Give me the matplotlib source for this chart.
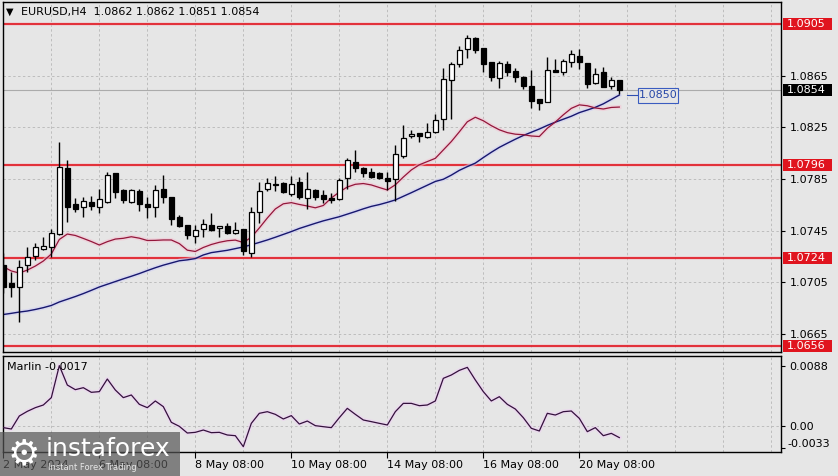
import numpy as np
import matplotlib.pyplot as plt
from matplotlib.patches import Rectangle

# EURUSD H4 candles, 2 May 2024 08:00 ... 21 May 2024 04:00
opens = [1.07184, 1.07047, 1.07012, 1.07184, 1.07254, 1.07306, 1.07321, 1.07424, 1.07933, 1.07656,
         1.07631, 1.07674, 1.07631, 1.07674, 1.07894, 1.07765, 1.07674, 1.07757, 1.07656, 1.07631,
         1.07770, 1.07708, 1.07558, 1.07492, 1.07409, 1.07461, 1.07492, 1.07468, 1.07488, 1.07430,
         1.07461, 1.07279, 1.07597, 1.07770, 1.07811, 1.07817, 1.07734, 1.07827, 1.07701, 1.07765,
         1.07726, 1.07705, 1.07693, 1.07855, 1.07979, 1.07933, 1.07907, 1.07899, 1.07860, 1.07850,
         1.08030, 1.08181, 1.08204, 1.08175, 1.08212, 1.08312, 1.08616, 1.08738, 1.08856, 1.08944,
         1.08862, 1.08753, 1.08634, 1.08738, 1.08686, 1.08642, 1.08570, 1.08469, 1.08444, 1.08694,
         1.08681, 1.08753, 1.08805, 1.08746, 1.08591, 1.08676, 1.08572, 1.0862]
highs = [1.07275, 1.07132, 1.07223, 1.07321, 1.07352, 1.07403, 1.07461, 1.08139, 1.07997, 1.07701,
         1.07713, 1.07721, 1.07770, 1.07907, 1.07899, 1.07773, 1.07770, 1.07770, 1.07713, 1.07804,
         1.07881, 1.07708, 1.07571, 1.07494, 1.07494, 1.07538, 1.07584, 1.07484, 1.07512, 1.07519,
         1.07463, 1.07636, 1.07829, 1.07855, 1.07873, 1.07829, 1.07873, 1.07868, 1.07907, 1.07770,
         1.07765, 1.07739, 1.07855, 1.08010, 1.08075, 1.07945, 1.07937, 1.07907, 1.07907, 1.08113,
         1.08268, 1.08229, 1.08204, 1.08281, 1.08351, 1.08707, 1.08758, 1.08882, 1.08965, 1.08952,
         1.08862, 1.08758, 1.08764, 1.08764, 1.08712, 1.08650, 1.08694, 1.08469, 1.08797, 1.08779,
         1.08779, 1.08849, 1.08856, 1.08746, 1.08712, 1.08719, 1.08642, 1.0862]
lows = [1.06965, 1.06939, 1.06745, 1.07132, 1.07223, 1.07300, 1.07248, 1.07416, 1.07519, 1.07597,
        1.07558, 1.07610, 1.07584, 1.07662, 1.07701, 1.07666, 1.07662, 1.07605, 1.07546, 1.07558,
        1.07662, 1.07494, 1.07481, 1.07383, 1.07352, 1.07403, 1.07450, 1.07403, 1.07424, 1.07424,
        1.07262, 1.07248, 1.07507, 1.07759, 1.07759, 1.07739, 1.07718, 1.07693, 1.07615, 1.07687,
        1.07662, 1.07662, 1.07687, 1.07773, 1.07902, 1.07868, 1.07860, 1.07850, 1.07765, 1.07682,
        1.08010, 1.08165, 1.08134, 1.08170, 1.08204, 1.08229, 1.08315, 1.08719, 1.08789, 1.08823,
        1.08676, 1.08609, 1.08552, 1.08650, 1.08603, 1.08547, 1.08400, 1.08381, 1.08444, 1.08681,
        1.08655, 1.08719, 1.08702, 1.08552, 1.08583, 1.08565, 1.08547, 1.0851]
closes = [1.07016, 1.07016, 1.07171, 1.07248, 1.07321, 1.07331, 1.07430, 1.07941, 1.07636, 1.07620,
          1.07682, 1.07641, 1.07693, 1.07881, 1.07752, 1.07687, 1.07765, 1.07656, 1.07636, 1.07765,
          1.07708, 1.07538, 1.07486, 1.07416, 1.07455, 1.07499, 1.07455, 1.07484, 1.07434, 1.07455,
          1.07293, 1.07597, 1.07759, 1.07821, 1.07801, 1.07747, 1.07811, 1.07708, 1.07770, 1.07708,
          1.07695, 1.07690, 1.07842, 1.07997, 1.07937, 1.07894, 1.07868, 1.07860, 1.07835, 1.08041,
          1.08170, 1.08196, 1.08181, 1.08216, 1.08304, 1.08622, 1.08738, 1.08849, 1.08944, 1.08849,
          1.08738, 1.08642, 1.08746, 1.08676, 1.08642, 1.08572, 1.08454, 1.08436, 1.08694, 1.08681,
          1.08764, 1.08815, 1.08753, 1.08583, 1.08661, 1.08565, 1.08616, 1.0854]

# moving averages
ma_fast = [1.07171, 1.07138, 1.07122, 1.07145, 1.07176, 1.07215, 1.07269, 1.07382, 1.07424, 1.07413,
           1.07390, 1.07366, 1.07339, 1.07365, 1.07385, 1.07391, 1.07403, 1.07392, 1.07374, 1.07375,
           1.07378, 1.07378, 1.07350, 1.07299, 1.07289, 1.07320, 1.07343, 1.07360, 1.07372, 1.07377,
           1.07358, 1.07399, 1.07471, 1.07548, 1.07618, 1.07658, 1.07667, 1.07653, 1.07641, 1.07627,
           1.07645, 1.07703, 1.07749, 1.07788, 1.07809, 1.07815, 1.07804, 1.07784, 1.07765, 1.07805,
           1.07865, 1.07920, 1.07960, 1.07985, 1.08010, 1.08075, 1.08140, 1.08215, 1.08293, 1.08328,
           1.08301, 1.08263, 1.08231, 1.08209, 1.08197, 1.08193, 1.08183, 1.08179, 1.08243, 1.08291,
           1.08347, 1.08397, 1.08424, 1.08417, 1.08400, 1.08392, 1.08404, 1.08407]
ma_slow = [1.06801, 1.06810, 1.06820, 1.06828, 1.06840, 1.06854, 1.06871, 1.06898, 1.06919, 1.06940,
           1.06963, 1.06988, 1.07014, 1.07035, 1.07056, 1.07077, 1.07097, 1.07118, 1.07141, 1.07163,
           1.07183, 1.07200, 1.07217, 1.07224, 1.07234, 1.07262, 1.07280, 1.07289, 1.07298, 1.07311,
           1.07324, 1.07341, 1.07359, 1.07378, 1.07399, 1.07421, 1.07443, 1.07467, 1.07487, 1.07507,
           1.07526, 1.07542, 1.07558, 1.07578, 1.07598, 1.07619, 1.07638, 1.07652, 1.07669, 1.07688,
           1.07716, 1.07744, 1.07773, 1.07802, 1.07831, 1.07848, 1.07880, 1.07917, 1.07946, 1.07973,
           1.08016, 1.08057, 1.08095, 1.08127, 1.08158, 1.08187, 1.08212, 1.08237, 1.08265, 1.08290,
           1.08313, 1.08336, 1.08364, 1.08384, 1.08405, 1.08432, 1.08466, 1.08500]

marlin = [-0.00024, -0.00044, 0.00147, 0.00215, 0.00269, 0.00308, 0.00416, 0.00885, 0.00601, 0.00533,
          0.00562, 0.00494, 0.00504, 0.00689, 0.00528, 0.00416, 0.00455, 0.00318, 0.00269, 0.00367,
          0.00284, 0.00054, -0.00005, -0.00103, -0.00093, -0.00059, -0.00098, -0.00093, -0.00132, -0.00142,
          -0.00303, 0.00039, 0.00186, 0.00210, 0.00171, 0.00103, 0.00152, 0.00029, 0.00073, 0.00005,
          -0.00010, -0.00024, 0.00122, 0.00259, 0.00171, 0.00088, 0.00064, 0.00039, 0.00015, 0.00210,
          0.00332, 0.00332, 0.00298, 0.00308, 0.00367, 0.00699, 0.00748, 0.00816, 0.00860, 0.00675,
          0.00504, 0.00367, 0.00430, 0.00318, 0.00249, 0.00122, -0.00034, -0.00073, 0.00186, 0.00161,
          0.00210, 0.00220, 0.00112, -0.00083, -0.00024, -0.00142, -0.00108, -0.0017]

levels = [1.0905, 1.0796, 1.0724, 1.0656]
price_ticks = [1.0865, 1.0825, 1.0785, 1.0745, 1.0705, 1.0665]
marlin_ticks = [0.0088, 0.0, -0.0033]
time_pos = [0, 12, 24, 36, 48, 60, 72]
time_labels = ['2 May 2024', '6 May 08:00', '8 May 08:00', '10 May 08:00',
               '14 May 08:00', '16 May 08:00', '20 May 08:00']
ma_label = 1.0850

bg = '#e6e6e6'
red = '#e0141e'
grid_c = '#bdbdbd'
W, H = 838, 476

plt.rcParams['font.family'] = 'DejaVu Sans'
plt.rcParams['font.size'] = 8

fig = plt.figure(figsize=(W / 100, H / 100), dpi=100, facecolor=bg)


def box(x0, y0, x1, y1):
    return [x0 / W, 1 - y1 / H, (x1 - x0) / W, (y1 - y0) / H]


ax = fig.add_axes(box(3, 2, 781, 352), facecolor=bg)
ax2 = fig.add_axes(box(3, 356, 781, 452), facecolor=bg)

n = len(closes)
x = np.arange(n)
o = np.array(opens); c = np.array(closes)
hi = np.array(highs); lo = np.array(lows)

xlim = (-0.04, 97.21)
ylo = 1.0905 - 328 / 12917
yhi = 1.0905 + 22 / 12917
for a in (ax, ax2):
    a.set_xlim(*xlim)
    for s in a.spines.values():
        s.set_color('black'); s.set_linewidth(1)
    for gx in range(6, 97, 6):
        a.axvline(gx, color=grid_c, lw=0.7, ls=(0, (2.5, 2.5)), zorder=0)

ax.set_ylim(ylo, yhi)
for p in price_ticks:
    ax.axhline(p, color=grid_c, lw=0.7, ls=(0, (2.5, 2.5)), zorder=0)

# bid line
ax.axhline(c[-1], color='#ababab', lw=0.8, zorder=0.5)

# horizontal levels
for lv in levels:
    ax.axhline(lv, color='#f2b4be', lw=2.6, alpha=0.5, zorder=1)
    ax.axhline(lv, color=red, lw=1.2, zorder=1)

# moving averages
ax.plot(x, ma_slow, color='#cfcff4', lw=3, alpha=0.6, zorder=2)
ax.plot(x, ma_slow, color='#17176e', lw=1.0, zorder=2.1)
ax.plot(x, ma_fast, color='#f3c6d4', lw=3, alpha=0.6, zorder=2)
ax.plot(x, ma_fast, color='#93163a', lw=0.9, zorder=2.1)

# candles
ax.vlines(x, lo, hi, color='black', lw=1, zorder=3)
up = c >= o
body_lo = np.minimum(o, c)
body_h = np.maximum(np.abs(c - o), 0.00004)
ax.bar(x[up], body_h[up], bottom=body_lo[up], width=0.62, color='white',
       edgecolor='black', lw=0.9, zorder=4)
ax.bar(x[~up], body_h[~up], bottom=body_lo[~up], width=0.62, color='black',
       edgecolor='black', lw=0.9, zorder=4)

# price scale
ax.yaxis.tick_right()
ax.set_yticks(price_ticks)
ax.set_yticklabels([f'{p:.4f}' for p in price_ticks])
ax.tick_params(axis='y', length=3, width=0.8, pad=3, labelsize=8)
ax.set_xticks([])

ytr = ax.get_yaxis_transform()
px_h = 12 / 12917
for lv in levels:
    ax.add_patch(Rectangle((1 + 2 / 778, lv - px_h / 2), 49 / 778, px_h, transform=ytr,
                           facecolor=red, edgecolor='none', clip_on=False, zorder=5))
    ax.text(1 + 6 / 778, lv, f'{lv:.4f}', transform=ytr, color='white', ha='left',
            va='center', fontsize=8, clip_on=False, zorder=6)
ax.add_patch(Rectangle((1 + 2 / 778, c[-1] - px_h / 2), 49 / 778, px_h, transform=ytr,
                       facecolor='black', edgecolor='none', clip_on=False, zorder=5))
ax.text(1 + 6 / 778, c[-1], f'{c[-1]:.4f}', transform=ytr, color='white', ha='left',
        va='center', fontsize=8, clip_on=False, zorder=6)

# MA value tag
ax.plot([78.0, 79.3], [ma_label, ma_label], color='#3050b0', lw=0.8)
ax.add_patch(Rectangle((79.3, ma_label - 7.5 / 12917), 5.0, 15 / 12917, facecolor=bg,
                       edgecolor='#3a5cc0', lw=0.8, zorder=5))
ax.text(81.8, ma_label, f'{ma_label:.4f}', color='#2848a8', ha='center', va='center',
        fontsize=8, zorder=6)

# header
fig.text(6 / W, 1 - 12 / H, '\u25bc', fontsize=7, va='center', ha='left')
fig.text(21 / W, 1 - 12 / H, 'EURUSD,H4  1.0862 1.0862 1.0851 1.0854', fontsize=8,
         va='center', ha='left')

# Marlin pane
ax2.set_ylim(-26 / 6818, 70 / 6818)
ax2.axhline(0, color=grid_c, lw=0.7, ls=(0, (2.5, 2.5)), zorder=0)
ax2.plot(x, marlin, color='#ecd6f0', lw=3, alpha=0.8, zorder=2)
ax2.plot(x, marlin, color='#33103c', lw=0.9, zorder=3)
ax2.text(4 / 778, 1 - 11 / 96, f'Marlin {marlin[-1]:.4f}', transform=ax2.transAxes,
         ha='left', va='center', fontsize=8)
ax2.yaxis.tick_right()
ax2.set_yticks(marlin_ticks)
ax2.set_yticklabels(['0.0088', '0.00', ''])
ax2.tick_params(axis='y', length=3, width=0.8, pad=3, labelsize=8)
ax2.text(1 + 6 / 778, -0.0033 + 4 / 6818, '-0.0033', transform=ax2.get_yaxis_transform(),
         ha='left', va='center', fontsize=8, clip_on=False)
ax2.set_xticks(time_pos)
ax2.set_xticklabels(time_labels, ha='left')
ax2.tick_params(axis='x', length=4, width=0.8, pad=2, labelsize=8)

# watermark (sits over the time labels, as in the source screenshot)
fig.patches.append(Rectangle((0, 0), 180 / W, 44 / H, transform=fig.transFigure,
                             facecolor='#555555', alpha=0.7, edgecolor='none', zorder=10))
fig.text(24 / W, 1 - 454 / H, '\u2699', color='white', fontsize=26, ha='center',
         va='center', zorder=11)
fig.text(46 / W, 1 - 449 / H, 'instaforex', color='white', fontsize=18, ha='left',
         va='center', zorder=11)
fig.text(48 / W, 1 - 467 / H, 'Instant Forex Trading', color='#e8e8e8', fontsize=6,
         ha='left', va='center', zorder=11)

fig.savefig('out.png', dpi=100, facecolor=bg)
